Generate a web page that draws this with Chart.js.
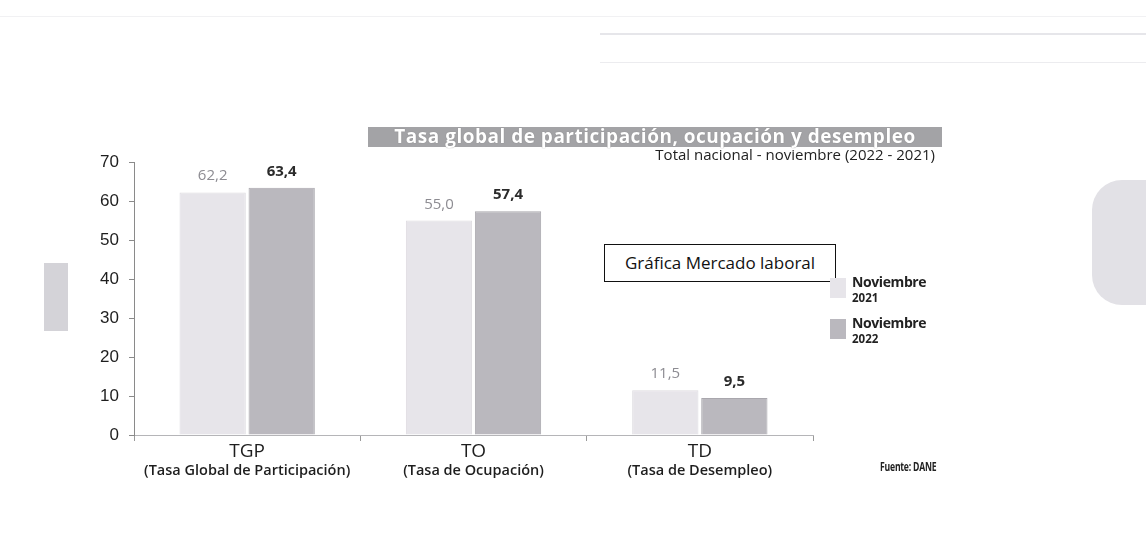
<!DOCTYPE html>
<html lang="es">
<head>
<meta charset="utf-8">
<title>Tasa global de participación, ocupación y desempleo</title>
<script src="https://cdn.jsdelivr.net/npm/chart.js@4/dist/chart.umd.min.js"></script>
<style>
  html, body { margin: 0; padding: 0; background: #fff; }
  body { width: 1146px; height: 541px; position: relative; overflow: hidden; font-family: "Open Sans", sans-serif; }
  #chart { position: absolute; left: 0; top: 0; }
  .scan { position: absolute; background: #ededf0; }
  .titulo {
    position: absolute; left: 368px; top: 127px; width: 574px; height: 20px;
    background: #a3a3a6; color: #fff; font-weight: 700; font-size: 19px; line-height: 19px;
    text-align: center; white-space: nowrap; letter-spacing: 0.5px;
    text-shadow: 0 0 1px #777;
  }
  .subtitulo {
    position: absolute; right: 211px; top: 144px; font-size: 15px; color: #222; white-space: nowrap;
  }
  .caja {
    position: absolute; left: 604px; top: 244px; width: 230px; height: 36px;
    border: 1.5px solid #111; background: #fff; font-size: 17px; line-height: 36px;
    text-align: center; color: #111; white-space: nowrap;
  }
  .leyenda { position: absolute; left: 830px; top: 274px; }
  .leyenda .item { position: relative; height: 41px; }
  .leyenda .sw { position: absolute; left: 0; top: 4px; width: 16px; height: 20px; }
  .leyenda .txt { position: absolute; left: 22px; top: 0; font-weight: 700; color: #222; line-height: 15px; font-size: 14px; letter-spacing: -0.4px; white-space: nowrap; }
  .leyenda .txt span { font-size: 11.5px; letter-spacing: 0; }
  .fuente { position: absolute; left: 880px; top: 458px; font-size: 12px; font-weight: 700; color: #222; letter-spacing: -0.3px; transform: scaleX(0.72); transform-origin: left top; white-space: nowrap; }
</style>
</head>
<body>
<!-- restos del escaneo -->
<div class="scan" style="left:0;top:16px;width:1146px;height:1px;background:#f1f1f3"></div>
<div class="scan" style="left:600px;top:33px;width:546px;height:2px;background:#e6e6ea"></div>
<div class="scan" style="left:600px;top:62px;width:546px;height:1px;background:#ececef"></div>
<div class="scan" style="left:44px;top:263px;width:24px;height:68px;background:#d4d3d8"></div>
<div class="scan" style="left:1092px;top:180px;width:54px;height:125px;border-radius:30px 0 0 30px;background:#e2e1e6"></div>

<canvas id="chart" width="1146" height="541"></canvas>

<div class="titulo">Tasa global de participación, ocupación y desempleo</div>
<div class="subtitulo">Total nacional - noviembre (2022 - 2021)</div>
<div class="caja">Gráfica Mercado laboral</div>
<div class="leyenda" id="leyenda"></div>
<div class="fuente">Fuente: DANE</div>

<script>
// datos
const categorias = ['TGP', 'TO', 'TD'];
const subtitulos = ['(Tasa Global de Participación)', '(Tasa de Ocupación)', '(Tasa de Desempleo)'];
const noviembre2021 = [62.2, 55.0, 11.5];
const noviembre2022 = [63.4, 57.4, 9.5];
const etiquetasSeries = [['Noviembre', '2021'], ['Noviembre', '2022']];
const yMin = 0, yMax = 70, yPaso = 10;

const coloresSeries = ['#e7e5ea', '#bab8be'];
const bordesSeries = ['#dddbe0', '#a9a7ad'];

// leyenda en html
const leyenda = document.getElementById('leyenda');
etiquetasSeries.forEach((et, i) => {
  const item = document.createElement('div');
  item.className = 'item';
  item.innerHTML = '<div class="sw" style="background:' + coloresSeries[i] + '"></div>' +
    '<div class="txt">' + et[0] + '<br><span>' + et[1] + '</span></div>';
  leyenda.appendChild(item);
});

function fmt(v) {
  return v.toFixed(1).replace('.', ',');
}

// valores encima de las barras y etiquetas de categoría
const etiquetasPlugin = {
  id: 'etiquetas',
  afterDatasetsDraw(chart) {
    const ctx = chart.ctx;
    ctx.save();
    ctx.textAlign = 'center';
    ctx.textBaseline = 'alphabetic';
    chart.data.datasets.forEach((ds, i) => {
      const meta = chart.getDatasetMeta(i);
      meta.data.forEach((bar, j) => {
        if (i === 0) {
          ctx.fillStyle = '#8d8c92';
          ctx.font = '15px "Open Sans"';
        } else {
          ctx.fillStyle = '#2b2b2b';
          ctx.font = 'bold 15px "Open Sans"';
        }
        ctx.fillText(fmt(ds.data[j]), bar.x, bar.y - 12);
      });
    });
    const x = chart.scales.x;
    categorias.forEach((c, j) => {
      const px = x.getPixelForValue(j);
      ctx.fillStyle = '#1e1e1e';
      ctx.font = '19px "Open Sans"';
      ctx.fillText(c, px, 457);
      ctx.font = '600 14.5px "Open Sans"';
      ctx.fillText(subtitulos[j], px, 475);
    });
    ctx.restore();
  }
};

new Chart(document.getElementById('chart'), {
  type: 'bar',
  data: {
    labels: categorias,
    datasets: [{
      label: etiquetasSeries[0].join(' '),
      data: noviembre2021,
      backgroundColor: coloresSeries[0],
      borderColor: bordesSeries[0],
      borderWidth: 1,
      categoryPercentage: 0.61,
      barPercentage: 0.96
    }, {
      label: etiquetasSeries[1].join(' '),
      data: noviembre2022,
      backgroundColor: coloresSeries[1],
      borderColor: bordesSeries[1],
      borderWidth: 1,
      categoryPercentage: 0.61,
      barPercentage: 0.96
    }]
  },
  options: {
    responsive: false,
    animation: false,
    layout: { padding: { top: 162, right: 333, bottom: 46, left: 0 } },
    plugins: {
      legend: { display: false },
      tooltip: { enabled: false }
    },
    scales: {
      x: {
        grid: { display: true, offset: true, drawOnChartArea: false, drawTicks: true, tickLength: 6, color: '#9a9a9a' },
        border: { display: true, color: '#b5b5b8', dash: [4, 2] },
        ticks: { display: false },
        afterFit: function(scale) { scale.height = 60; }
      },
      y: {
        min: yMin,
        max: yMax,
        grid: { display: true, drawOnChartArea: false, drawTicks: true, tickLength: 5, color: '#8a8a8a' },
        border: { display: true, color: '#8a8a8a' },
        ticks: {
          stepSize: yPaso,
          padding: 10,
          color: '#1e1e1e',
          font: { family: '"Liberation Sans", Arial, sans-serif', size: 17 }
        },
        afterFit: function(scale) { scale.width = 134; }
      }
    }
  },
  plugins: [etiquetasPlugin]
});
</script>
</body>
</html>
